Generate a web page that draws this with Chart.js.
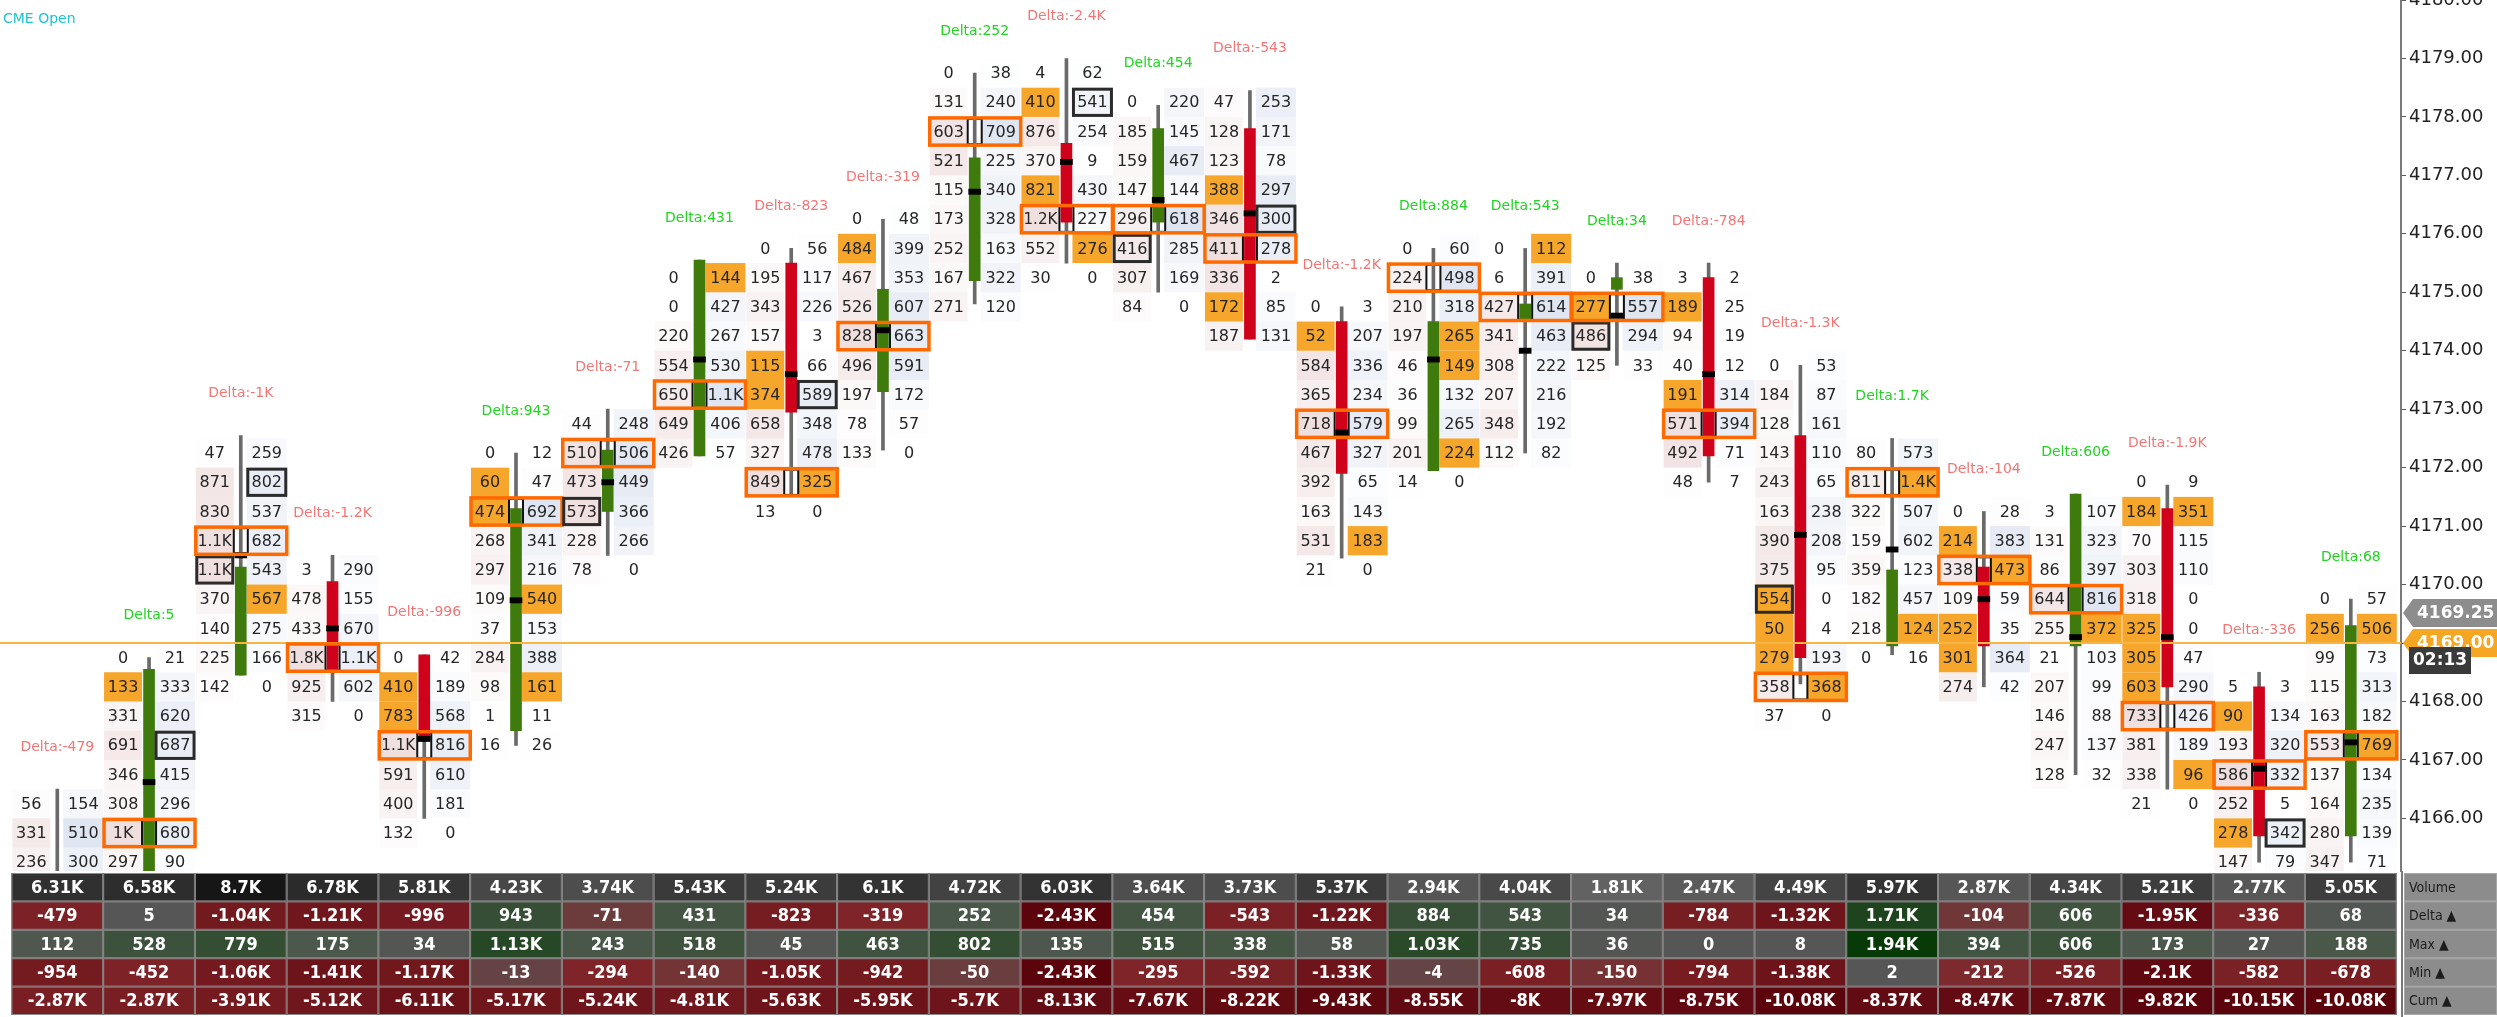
<!DOCTYPE html>
<html>
<head>
<meta charset="utf-8">
<script src="https://cdn.jsdelivr.net/npm/chart.js@4.4.1/dist/chart.umd.min.js"></script>
<style>
  html, body { margin: 0; padding: 0; background: #fff; }
  #wrap { width: 2497px; height: 1017px; position: relative; }
</style>
</head>
<body>
<div id="wrap"><canvas id="fp"></canvas></div>
<script>
// footprint rows are 0.5 pt tall, first entry of each list = highest row
const rowTop = [4166.25, 4168.75, 4172.25, 4170.25, 4168.75, 4172.25, 4172.75, 4175.25, 4175.75, 4176.25, 4178.75, 4178.75, 4178.25,
  4178.25, 4174.75, 4175.75, 4175.75, 4175.25, 4175.25, 4173.75, 4172.25, 4171.25, 4171.25, 4171.75, 4168.25, 4169.75];

const bidVol = [
  [56, 331, 236],
  [0, 133, 331, 691, 346, 308, 1000, 297],
  [47, 871, 830, 1100, 1100, 370, 140, 225, 142],
  [3, 478, 433, 1800, 925, 315],
  [0, 410, 783, 1100, 591, 400, 132],
  [0, 60, 474, 268, 297, 109, 37, 284, 98, 1, 16],
  [44, 510, 473, 573, 228, 78],
  [0, 0, 220, 554, 650, 649, 426],
  [0, 195, 343, 157, 115, 374, 658, 327, 849, 13],
  [0, 484, 467, 526, 828, 496, 197, 78, 133],
  [0, 131, 603, 521, 115, 173, 252, 167, 271],
  [4, 410, 876, 370, 821, 1200, 552, 30],
  [0, 185, 159, 147, 296, 416, 307, 84],
  [47, 128, 123, 388, 346, 411, 336, 172, 187],
  [0, 52, 584, 365, 718, 467, 392, 163, 531, 21],
  [0, 224, 210, 197, 46, 36, 99, 201, 14],
  [0, 6, 427, 341, 308, 207, 348, 112],
  [0, 277, 486, 125],
  [3, 189, 94, 40, 191, 571, 492, 48],
  [0, 184, 128, 143, 243, 163, 390, 375, 554, 50, 279, 358, 37],
  [80, 811, 322, 159, 359, 182, 218, 0],
  [0, 214, 338, 109, 252, 301, 274],
  [3, 131, 86, 644, 255, 21, 207, 146, 247, 128],
  [0, 184, 70, 303, 318, 325, 305, 603, 733, 381, 338, 21],
  [5, 90, 193, 586, 252, 278, 147],
  [0, 256, 99, 115, 163, 553, 137, 164, 280, 347]
];

const askVol = [
  [154, 510, 300],
  [21, 333, 620, 687, 415, 296, 680, 90],
  [259, 802, 537, 682, 543, 567, 275, 166, 0],
  [290, 155, 670, 1100, 602, 0],
  [42, 189, 568, 816, 610, 181, 0],
  [12, 47, 692, 341, 216, 540, 153, 388, 161, 11, 26],
  [248, 506, 449, 366, 266, 0],
  [144, 427, 267, 530, 1100, 406, 57],
  [56, 117, 226, 3, 66, 589, 348, 478, 325, 0],
  [48, 399, 353, 607, 663, 591, 172, 57, 0],
  [38, 240, 709, 225, 340, 328, 163, 322, 120],
  [62, 541, 254, 9, 430, 227, 276, 0],
  [220, 145, 467, 144, 618, 285, 169, 0],
  [253, 171, 78, 297, 300, 278, 2, 85, 131],
  [3, 207, 336, 234, 579, 327, 65, 143, 183, 0],
  [60, 498, 318, 265, 149, 132, 265, 224, 0],
  [112, 391, 614, 463, 222, 216, 192, 82],
  [38, 557, 294, 33],
  [2, 25, 19, 12, 314, 394, 71, 7],
  [53, 87, 161, 110, 65, 238, 208, 95, 0, 4, 193, 368, 0],
  [573, 1400, 507, 602, 123, 457, 124, 16],
  [28, 383, 473, 59, 35, 364, 42],
  [107, 323, 397, 816, 372, 103, 99, 88, 137, 32],
  [9, 351, 115, 110, 0, 0, 47, 290, 426, 189, 96, 0],
  [3, 134, 320, 332, 5, 342, 79],
  [57, 506, 73, 313, 182, 769, 134, 235, 139, 71]
];

// row index of the point of control, imbalance cells and boxed cells
const pocRow = [-1, 6, 3, 3, 3, 2, 1, 4, 8, 4, 2, 5, 4, 5, 4, 1, 2, 1, 5, 11, 1, 2, 3, 8, 3, 5];
const bidImb = [[], [1], [], [], [1, 2], [1, 2], [], [], [4, 5], [1], [], [1, 4], [], [3, 7], [1], [], [], [1], [1, 4], [8, 9, 10], [], [1, 4, 5], [], [1, 5, 6, 7], [1, 5], [1]];
const askImb = [[], [], [5], [], [], [5, 8], [], [0], [8], [], [], [6], [], [], [8], [3, 4, 7], [0], [], [], [11], [1, 6], [2], [4], [1, 10], [], [1, 5]];
const bidBox = [[], [], [4], [], [], [], [3], [], [], [], [], [], [5], [], [], [], [], [2], [], [8], [], [], [], [], [], []];
const askBox = [[], [3], [1], [], [], [], [], [], [5], [], [], [1], [], [4], [], [], [], [], [], [], [], [], [], [], [5], []];

// candles
const openPx = [4165.0, 4164.5, 4168.45, 4170.05, 4168.8, 4167.5, 4171.25, 4172.2, 4175.5, 4173.3, 4175.2, 4177.55, 4176.2,
  4177.8, 4174.5, 4171.95, 4174.55, 4175.05, 4175.25, 4172.55, 4168.95, 4170.3, 4168.95, 4171.3, 4168.25, 4165.7];
const closePx = [4164.5, 4168.55, 4170.3, 4168.55, 4167.4, 4171.3, 4172.3, 4175.55, 4172.95, 4175.05, 4177.3, 4176.2, 4177.8,
  4174.2, 4171.9, 4174.5, 4174.8, 4175.25, 4172.2, 4168.75, 4170.25, 4168.95, 4171.55, 4168.25, 4165.7, 4169.3];
const highPx = [4166.5, 4168.75, 4172.55, 4170.5, 4168.8, 4172.25, 4173.0, 4175.55, 4175.75, 4176.25, 4178.75, 4179.0, 4178.2,
  4178.45, 4174.75, 4175.75, 4175.75, 4175.5, 4175.5, 4173.75, 4172.5, 4171.25, 4171.55, 4171.7, 4168.5, 4169.75];
const lowPx = [4164.0, 4164.0, 4168.45, 4168.0, 4166.0, 4167.25, 4170.5, 4172.2, 4171.55, 4172.3, 4174.8, 4175.5, 4175.0,
  4174.2, 4170.45, 4171.95, 4172.25, 4173.75, 4171.75, 4168.3, 4168.8, 4168.25, 4166.75, 4166.5, 4165.25, 4165.25];
const vwapPx = [null, 4166.62, 4170.5, 4169.25, 4167.36, 4169.73, 4171.75, 4173.85, 4173.6, 4174.35, 4176.72, 4177.23, 4176.58,
  4176.35, 4172.6, 4173.85, 4174.0, 4174.6, 4173.6, 4170.85, 4170.6, 4169.75, 4169.1, 4169.1, 4166.85, 4167.3];

// bottom table
const volume = [6310, 6580, 8700, 6780, 5810, 4230, 3740, 5430, 5240, 6100, 4720, 6030, 3640, 3730, 5370, 2940, 4040, 1810, 2470, 4490, 5970, 2870, 4340, 5210, 2770, 5050];
const delta = [-479, 5, -1040, -1210, -996, 943, -71, 431, -823, -319, 252, -2430, 454, -543, -1220, 884, 543, 34, -784, -1320, 1710, -104, 606, -1950, -336, 68];
const maxDelta = [112, 528, 779, 175, 34, 1130, 243, 518, 45, 463, 802, 135, 515, 338, 58, 1030, 735, 36, 0, 8, 1940, 394, 606, 173, 27, 188];
const minDelta = [-954, -452, -1060, -1410, -1170, -13, -294, -140, -1050, -942, -50, -2430, -295, -592, -1330, -4, -608, -150, -794, -1380, 2, -212, -526, -2100, -582, -678];
const cumDelta = [-2870, -2870, -3910, -5120, -6110, -5170, -5240, -4810, -5630, -5950, -5700, -8130, -7670, -8220, -9430, -8550, -8000, -7970, -8750, -10080, -8370, -8470, -7870, -9820, -10150, -10080];
const tableLabels = ['Volume', 'Delta ▲', 'Max ▲', 'Min ▲', 'Cum ▲'];

const priceTicks = [4166, 4167, 4168, 4169, 4170, 4171, 4172, 4173, 4174, 4175, 4176, 4177, 4178, 4179, 4180];
const openLine = 4169.00;
const lastPrice = 4169.25;
const barTimer = '02:13';

const ROW = 0.5;
const ORANGE = '#f5a62b';
const GREEN = '#3f7a0c';
const RED = '#d0021b';

const fmtCell = v => v >= 1000 ? (Math.round(v / 100) / 10) + 'K' : String(v);
const fmtK = v => Math.abs(v) >= 1000 ? (v / 1000).toFixed(2).replace(/0+$/, '').replace(/\.$/, '') + 'K' : String(v);
const fmtDelta = v => Math.abs(v) >= 1000 ? (Math.trunc(v / 100) / 10) + 'K' : String(v);

function mix(a, b, t) {
  t = Math.max(0, Math.min(1, t));
  return 'rgb(' + a.map((c, k) => Math.round(c + (b[k] - c) * t)).join(',') + ')';
}
function volColor(v) {
  const g = Math.round(118 - 96 * v / Math.max(...volume));
  return `rgb(${g},${g},${g})`;
}
function signColor(v, peak) {
  const t = Math.min(1, Math.abs(v) / peak);
  if (v < 0) {
    if (t < 0.1) return mix([100, 68, 68], [128, 38, 42], t / 0.1);
    return mix([128, 38, 42], [92, 4, 12], (t - 0.1) / 0.9);
  }
  if (t < 0.1) return mix([86, 86, 86], [74, 88, 74], t / 0.1);
  return mix([74, 88, 74], [8, 58, 8], (t - 0.1) / 0.9);
}

const idx = volume.map((_, i) => i);

const footprint = {
  id: 'footprint',
  beforeDatasetsDraw(chart) {
    const { ctx, chartArea: a, scales: { x, y } } = chart;
    const rowH = y.getPixelForValue(4170) - y.getPixelForValue(4170 + ROW);
    ctx.save();
    ctx.beginPath();
    ctx.rect(a.left, a.top, a.right - a.left, a.bottom - a.top);
    ctx.clip();
    ctx.textAlign = 'center';
    ctx.textBaseline = 'middle';
    ctx.font = '16px "DejaVu Sans"';
    idx.forEach(i => {
      const cx = x.getPixelForValue(i);
      const peak = Math.max(...bidVol[i], ...askVol[i]);
      bidVol[i].forEach((b, r) => {
        const s = askVol[i][r];
        const cy = y.getPixelForValue(rowTop[i] - r * ROW);
        const y0 = cy - rowH / 2;
        ctx.fillStyle = bidImb[i].includes(r) ? ORANGE : `rgba(205,150,150,${(0.3 * b / peak).toFixed(3)})`;
        ctx.fillRect(cx - 45, y0, 38, rowH);
        ctx.fillStyle = askImb[i].includes(r) ? ORANGE : `rgba(150,170,210,${(0.3 * s / peak).toFixed(3)})`;
        ctx.fillRect(cx + 6, y0, 40, rowH);
        ctx.fillStyle = '#262626';
        ctx.fillText(fmtCell(b), cx - 26, cy + 1, 34);
        ctx.fillText(fmtCell(s), cx + 26, cy + 1, 36);
        if (r === pocRow[i]) {
          ctx.fillStyle = '#fff';
          ctx.fillRect(cx - 7, y0 + 2, 14, rowH - 4);
          ctx.strokeStyle = '#111';
          ctx.lineWidth = 2;
          ctx.strokeRect(cx - 7, y0 + 2, 14, rowH - 4);
        }
      });
    });
    ctx.restore();
  },
  afterDatasetsDraw(chart) {
    const { ctx, chartArea: a, scales: { x, y } } = chart;
    const rowH = y.getPixelForValue(4170) - y.getPixelForValue(4170 + ROW);
    ctx.save();
    ctx.beginPath();
    ctx.rect(a.left, a.top, a.right - a.left, a.bottom - a.top);
    ctx.clip();
    // open line
    const ly = y.getPixelForValue(openLine);
    ctx.strokeStyle = '#f7b544';
    ctx.lineWidth = 2;
    ctx.beginPath();
    ctx.moveTo(a.left, ly);
    ctx.lineTo(a.right, ly);
    ctx.stroke();
    idx.forEach(i => {
      const cx = x.getPixelForValue(i);
      const rowY = r => y.getPixelForValue(rowTop[i] - r * ROW) - rowH / 2;
      ctx.strokeStyle = '#2b2b2b';
      ctx.lineWidth = 3;
      bidBox[i].forEach(r => ctx.strokeRect(cx - 44, rowY(r) + 1.5, 36, rowH - 3));
      askBox[i].forEach(r => ctx.strokeRect(cx + 7, rowY(r) + 1.5, 38, rowH - 3));
      if (pocRow[i] >= 0) {
        ctx.strokeStyle = '#ff6a00';
        ctx.lineWidth = 3.5;
        ctx.strokeRect(cx - 45, rowY(pocRow[i]) + 1, 91, rowH - 2);
      }
    });
    ctx.restore();
  },
  afterDraw(chart) {
    const { ctx, chartArea: a, scales: { x, y } } = chart;
    ctx.save();
    ctx.textAlign = 'center';
    ctx.textBaseline = 'middle';
    // delta labels over each bar
    ctx.font = '14px "DejaVu Sans"';
    idx.forEach(i => {
      ctx.fillStyle = delta[i] >= 0 ? '#22d322' : '#f27676';
      ctx.fillText('Delta:' + fmtDelta(delta[i]), x.getPixelForValue(i), y.getPixelForValue(highPx[i]) - 42);
    });
    ctx.textAlign = 'left';
    ctx.font = '14px "DejaVu Sans"';
    ctx.fillStyle = '#1cc4d4';
    ctx.fillText('CME Open', 3, 19);

    // bottom table
    const rows = [volume, delta, maxDelta, minDelta, cumDelta];
    const top = 873, rh = 28.4;
    ctx.textAlign = 'center';
    ctx.font = 'bold 18px "DejaVu Sans Condensed", "Liberation Sans Narrow", sans-serif';
    rows.forEach((vals, r) => {
      const peak = Math.max(...vals.map(Math.abs));
      vals.forEach((v, i) => {
        const l = x.getPixelForValue(i - 0.5), rgt = x.getPixelForValue(i + 0.5);
        const ty = top + r * rh;
        ctx.fillStyle = r === 0 ? volColor(v) : signColor(v, peak);
        ctx.fillRect(l, ty, rgt - l, rh);
        ctx.strokeStyle = '#8a8a8a';
        ctx.lineWidth = 1;
        ctx.strokeRect(l + 0.5, ty + 0.5, rgt - l - 1, rh - 1);
        ctx.fillStyle = '#fff';
        ctx.fillText(fmtK(v), (l + rgt) / 2, ty + rh / 2 + 1, rgt - l - 8);
      });
    });
    // row captions
    ctx.textAlign = 'left';
    ctx.font = '14px "DejaVu Sans Condensed", "Liberation Sans Narrow", sans-serif';
    tableLabels.forEach((t, r) => {
      const ty = top + r * rh;
      ctx.fillStyle = '#8c8c8c';
      ctx.fillRect(a.right + 3, ty, 2497 - a.right - 3, rh);
      ctx.strokeStyle = '#a8a8a8';
      ctx.strokeRect(a.right + 3.5, ty + 0.5, 2497 - a.right - 4, rh - 1);
      ctx.fillStyle = '#1c1c1c';
      ctx.fillText(t, a.right + 8, ty + rh / 2 + 1);
    });
    // axis border down through the table
    ctx.strokeStyle = '#7a7a7a';
    ctx.lineWidth = 2;
    ctx.beginPath();
    ctx.moveTo(a.right + 1, a.bottom);
    ctx.lineTo(a.right + 1, 1017);
    ctx.stroke();

    // price tags on the axis
    const tag = (yc, bg, text) => {
      const l = a.right + 2, h = 28;
      ctx.fillStyle = bg;
      ctx.beginPath();
      ctx.moveTo(l, yc);
      ctx.lineTo(l + 10, yc - h / 2);
      ctx.lineTo(2497, yc - h / 2);
      ctx.lineTo(2497, yc + h / 2);
      ctx.lineTo(l + 10, yc + h / 2);
      ctx.closePath();
      ctx.fill();
      ctx.fillStyle = '#fff';
      ctx.textAlign = 'left';
      ctx.font = 'bold 17px "DejaVu Sans"';
      ctx.fillText(text, l + 14, yc + 1);
    };
    const oy = y.getPixelForValue(openLine);
    tag(oy, '#f5a623', openLine.toFixed(2));
    tag(Math.min(y.getPixelForValue(lastPrice), oy - 30), '#8d8d8d', lastPrice.toFixed(2));
    ctx.fillStyle = '#3a3a3a';
    ctx.fillRect(a.right + 8, oy + 4, 62, 27);
    ctx.fillStyle = '#fff';
    ctx.font = 'bold 17px "DejaVu Sans"';
    ctx.fillText(barTimer, a.right + 12, oy + 18);
    ctx.restore();
  }
};

const bodyColors = idx.map(i => closePx[i] >= openPx[i] ? GREEN : RED);

new Chart(document.getElementById('fp'), {
  type: 'bar',
  data: {
    datasets: [
      {
        label: 'vwap',
        data: idx.filter(i => vwapPx[i] !== null).map(i => ({ x: i, y: [vwapPx[i] - 0.045, vwapPx[i] + 0.045] })),
        backgroundColor: '#000',
        barThickness: 12,
        grouped: false,
        order: 0
      },
      {
        label: 'body',
        data: idx.map(i => ({ x: i, y: [openPx[i], closePx[i]] })),
        backgroundColor: bodyColors,
        barThickness: 11,
        grouped: false,
        order: 1
      },
      {
        label: 'wick',
        data: idx.map(i => ({ x: i, y: [lowPx[i], highPx[i]] })),
        backgroundColor: '#6a6a6a',
        barThickness: 3,
        grouped: false,
        order: 2
      }
    ]
  },
  options: {
    responsive: true,
    maintainAspectRatio: false,
    animation: false,
    layout: { padding: { top: -3, bottom: 146, left: 0, right: 0 } },
    plugins: { legend: { display: false }, tooltip: { enabled: false } },
    scales: {
      x: { type: 'linear', display: false, offset: false, min: -0.6246, max: 25.547 },
      y: {
        type: 'linear',
        position: 'right',
        min: 4165.1,
        max: 4180,
        afterBuildTicks: s => { s.ticks = priceTicks.map(v => ({ value: v })); },
        afterFit: s => { s.width = 96; s.paddingTop = 0; s.paddingBottom = 0; },
        grid: { drawOnChartArea: false, drawTicks: true, tickLength: 5, color: '#555' },
        border: { display: true, color: '#7a7a7a', width: 2 },
        ticks: {
          color: '#222',
          padding: 3,
          font: { family: 'DejaVu Sans', size: 18 },
          callback: v => v.toFixed(2)
        }
      }
    }
  },
  plugins: [footprint]
});
</script>
</body>
</html>
